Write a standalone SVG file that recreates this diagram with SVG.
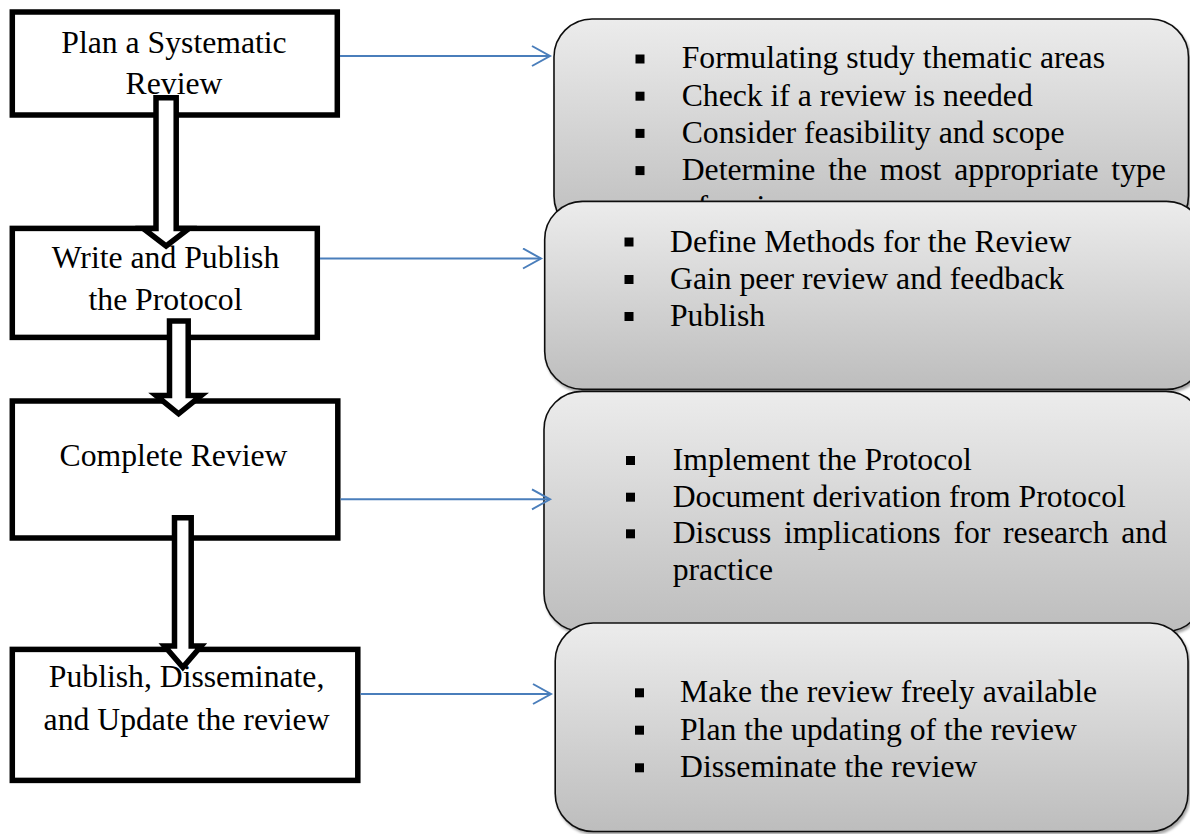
<svg xmlns="http://www.w3.org/2000/svg" width="1190" height="834" viewBox="0 0 1190 834">
<defs>
<style>
.lbox{fill:#fff;stroke:#000;stroke-width:5.5}
.lt{font-family:"Liberation Serif","Times New Roman",serif;font-size:31.7px;fill:#000;text-anchor:middle}
.rbox{fill:url(#g);stroke:#111;stroke-width:1.6;filter:url(#sh)}
.rt{font-family:"Liberation Serif","Times New Roman",serif;font-size:31.7px;fill:#000}
.bul{fill:#000}
.blk{fill:#fff;stroke:#000;stroke-width:5.5;stroke-linejoin:miter;stroke-miterlimit:10}
.conn{fill:none;stroke:#4a7ebb;stroke-width:2;marker-end:url(#open)}
</style>
<linearGradient id="g" x1="0" y1="0" x2="0" y2="1">
<stop offset="0" stop-color="#ececec"/>
<stop offset="1" stop-color="#bdbdbd"/>
</linearGradient>
<filter id="sh" x="-5%" y="-5%" width="115%" height="115%">
<feDropShadow dx="1.5" dy="2.5" stdDeviation="1.2" flood-color="#000" flood-opacity="0.35"/>
</filter>
<marker id="open" markerUnits="userSpaceOnUse" markerWidth="24" markerHeight="24" refX="19" refY="11" orient="auto">
<path d="M1,1 L19,11 L1,21" fill="none" stroke="#4a7ebb" stroke-width="2"/>
</marker>
</defs>

<g id="step1">
<rect class="lbox" x="12.3" y="12" width="325" height="103"/>
<text class="lt" x="174" y="52.7">Plan a Systematic</text>
<text class="lt" x="174" y="94.3">Review</text>
</g>
<g id="step2">
<rect class="lbox" x="12.3" y="228.4" width="305" height="109"/>
<text class="lt" x="165.5" y="267.5">Write and Publish</text>
<text class="lt" x="165.5" y="309.5">the Protocol</text>
</g>
<g id="step3">
<rect class="lbox" x="12.3" y="401" width="325.5" height="137"/>
<text class="lt" x="173.5" y="465.5">Complete Review</text>
</g>
<g id="step4">
<rect class="lbox" x="12.3" y="649.4" width="345.5" height="131"/>
<text class="lt" x="186.6" y="687">Publish, Disseminate,</text>
<text class="lt" x="186.6" y="729.5">and Update the review</text>
</g>

<g id="detail1">
<rect class="rbox" x="554" y="19" width="634.5" height="215" rx="38" ry="38"/>
<rect class="bul" x="635.5" y="54.5" width="9" height="9"/>
<rect class="bul" x="635.5" y="91.7" width="9" height="9"/>
<rect class="bul" x="635.5" y="128.9" width="9" height="9"/>
<rect class="bul" x="635.5" y="166.1" width="9" height="9"/>
<text class="rt" x="681.7" y="68.3">Formulating study thematic areas</text>
<text class="rt" x="681.7" y="105.5">Check if a review is needed</text>
<text class="rt" x="681.7" y="142.7">Consider feasibility and scope</text>
<text class="rt" x="681.7" y="179.9" word-spacing="4.9">Determine the most appropriate type</text>
<text class="rt" x="681.7" y="217.1">of review</text>
</g>
<g id="detail2">
<rect class="rbox" x="544.7" y="201.4" width="660" height="188" rx="38" ry="38"/>
<rect class="bul" x="624.5" y="237.5" width="9" height="9"/>
<rect class="bul" x="624.5" y="275" width="9" height="9"/>
<rect class="bul" x="624.5" y="312" width="9" height="9"/>
<text class="rt" x="670" y="251.5">Define Methods for the Review</text>
<text class="rt" x="670" y="289">Gain peer review and feedback</text>
<text class="rt" x="670" y="326">Publish</text>
</g>
<g id="detail3">
<rect class="rbox" x="544" y="391.4" width="660" height="240" rx="38" ry="38"/>
<rect class="bul" x="626" y="456" width="9" height="9"/>
<rect class="bul" x="626" y="492.7" width="9" height="9"/>
<rect class="bul" x="626" y="529.3" width="9" height="9"/>
<text class="rt" x="672.7" y="470">Implement the Protocol</text>
<text class="rt" x="672.7" y="506.7">Document derivation from Protocol</text>
<text class="rt" x="672.7" y="543.3" word-spacing="4.8">Discuss implications for research and</text>
<text class="rt" x="672.7" y="580">practice</text>
</g>
<g id="detail4">
<rect class="rbox" x="555.2" y="623" width="632.8" height="208.5" rx="38" ry="38"/>
<rect class="bul" x="635" y="688.3" width="9" height="9"/>
<rect class="bul" x="635" y="725.7" width="9" height="9"/>
<rect class="bul" x="635" y="763.3" width="9" height="9"/>
<text class="rt" x="680" y="702.3">Make the review freely available</text>
<text class="rt" x="680" y="739.7">Plan the updating of the review</text>
<text class="rt" x="680" y="777.3">Disseminate the review</text>
</g>

<g id="connectors">
<path class="blk" d="M156,97.8 H176.2 V228.4 H189 L166.1,246 L143.2,228.4 H156 Z"/>
<path class="blk" d="M169.5,321 H188.2 V395.5 H201.2 L178.6,413.8 L156,395.5 H169.5 Z"/>
<path class="blk" d="M174.5,517.8 H191.2 V646 H201.2 L182.85,667.4 L164.5,646 H174.5 Z"/>
<path class="conn" d="M340,56 H550"/>
<path class="conn" d="M320,258.5 H541"/>
<path class="conn" d="M340.6,499.3 H550"/>
<path class="conn" d="M360.5,694 H551"/>
</g>
</svg>
